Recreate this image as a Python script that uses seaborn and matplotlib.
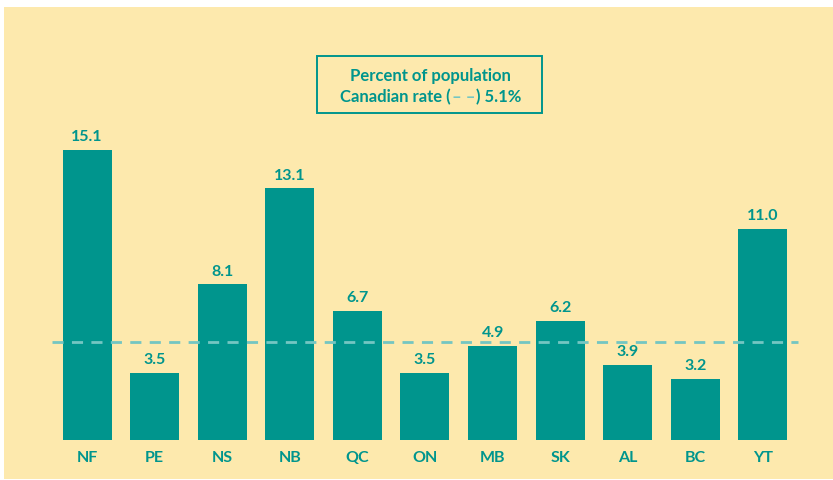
import matplotlib
matplotlib.use("Agg")
import matplotlib.pyplot as plt
import matplotlib.patches as mpatches
import pandas as pd
import seaborn as sns

provinces = ["NF", "PE", "NS", "NB", "QC", "ON", "MB", "SK", "AL", "BC", "YT"]
percent = [15.1, 3.5, 8.1, 13.1, 6.7, 3.5, 4.9, 6.2, 3.9, 3.2, 11.0]
canada_rate = 5.1

teal = "#00958d"
light_teal = "#74c6c2"
cream = "#fde9ad"

sns.set_style("white")
plt.rcParams["font.family"] = ["Lato", "DejaVu Sans"]
plt.rcParams["font.weight"] = "bold"

df = pd.DataFrame({"prov": provinces, "pct": percent})

fig = plt.figure(figsize=(8.33, 4.81), dpi=100)
fig.patch.set_facecolor("white")
# axes covers the cream panel (x 4..833 px, y 8..480 px)
ax = fig.add_axes([4 / 833, 1 / 481, 829 / 833, 472 / 481])
ax.set_facecolor(cream)

sns.barplot(data=df, x="prov", y="pct", color=teal, width=0.725,
            saturation=1, linewidth=0, ax=ax)
ax.bar_label(ax.containers[0], fmt="%.1f", padding=5, color=teal,
             fontsize=11.5, fontweight="bold")

ax.hlines(canada_rate, -0.52, 10.52, colors=light_teal, linewidth=2,
          linestyles=(0, (4, 3)))

for i, p in enumerate(provinces):
    ax.text(i, -0.885, p, ha="center", va="center", color=teal,
            fontsize=11.5, fontweight="bold")

ax.set_xlim(-1.228, 11.036)
ax.set_ylim(-2.03, 22.55)
ax.set_xlabel("")
ax.set_ylabel("")
ax.set_xticks([])
ax.set_yticks([])
for s in ax.spines.values():
    s.set_visible(False)

# legend-like box
box = mpatches.Rectangle((317 / 833, 1 - 114 / 481), 225 / 833, 57 / 481,
                         transform=fig.transFigure, fill=False,
                         edgecolor=teal, linewidth=1.4)
fig.patches.append(box)
fig.text(430 / 833, 1 - 76 / 481, "Percent of population", ha="center",
         va="center", color=teal, fontsize=12, fontweight="bold")

parts = [("Canadian rate (", teal), ("\u2013 \u2013", light_teal), (") 5.1%", teal)]
fig.canvas.draw()
r = fig.canvas.get_renderer()
texts = []
for s, c in parts:
    t = fig.text(0, 1 - 97 / 481, s, ha="left", va="center", color=c,
                 fontsize=12, fontweight="bold")
    texts.append(t)
widths = [t.get_window_extent(r).width for t in texts]
x = 430 - sum(widths) / 2
for t, w in zip(texts, widths):
    t.set_x(x / 833)
    x += w + 1

fig.savefig("out.png", dpi=100, facecolor=fig.get_facecolor())
